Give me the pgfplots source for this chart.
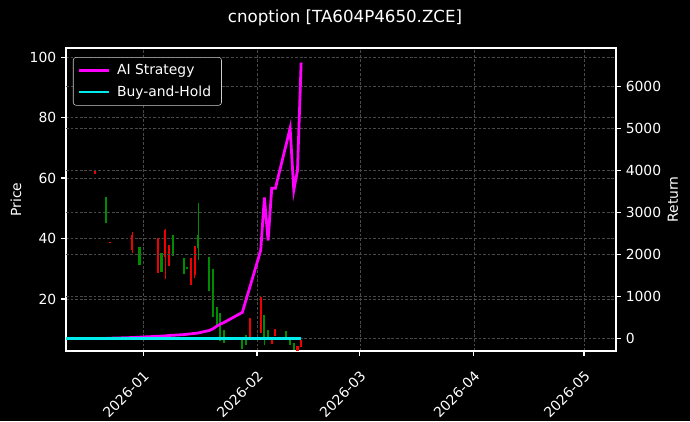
\documentclass[border=0pt]{standalone}
\usepackage{pgfplots}
\pgfplotsset{compat=1.18}
\usepackage{fontspec}
\setmainfont{DejaVu Sans}
\definecolor{cred}{RGB}{240,0,0}
\definecolor{cgreen}{RGB}{0,140,0}
\definecolor{cmag}{RGB}{255,0,255}
\definecolor{ccyan}{RGB}{0,235,235}
\definecolor{gridc}{RGB}{72,72,72}
\pgfplotsset{
  common/.style={
    at={(47.52pt,50.4pt)}, anchor=south west, scale only axis,
    width=396pt, height=218.16pt, xmin=-21, xmax=128.7,
    tick label style={text=white, font=\fontsize{10}{12}\selectfont},
    label style={text=white, font=\fontsize{10}{12}\selectfont},
    /pgf/number format/assume math mode=true,
    /pgf/number format/1000 sep={},
    scaled ticks=false, tick align=outside, major tick length=3.5pt,
    tick style={white, line width=0.8pt},
    axis line style={white, line width=0.8pt},
    grid style={gridc, dash pattern=on 2pt off 1.3pt, line width=0.45pt},
  }
}
\begin{document}
\begin{tikzpicture}
\fill[black] (0pt,0pt) rectangle (496.8pt,303.12pt);
\useasboundingbox (0pt,0pt) rectangle (496.8pt,303.12pt);
\node[text=white, font=\fontsize{12}{14}\selectfont] at (248.4pt,290.2pt) {cnoption [TA604P4650.ZCE]};
\begin{axis}[common,
  ymin=2.8, ymax=103,
  xtick={0,31,59,90,120},
  xticklabels={2026-01,2026-02,2026-03,2026-04,2026-05},
  xticklabel style={rotate=45, anchor=north east, xshift=-4pt, yshift=-3.5pt},
  ytick={20,40,60,80,100},
  xtick pos=bottom, ytick pos=left,
  grid=major,
  ylabel={Price},
  ylabel style={at={(axis description cs:-0.0909,0.5)}, anchor=center},
]
% red candle wicks
\addplot[draw=cred, line width=0.7pt, unbounded coords=jump] table {
x y
-3 35.2
-3 42.1
-3 nan
6 26.6
6 43.1
6 nan
14 26.9
14 37.5
};
% red candle bodies
\addplot[draw=cred, line width=1.5pt, unbounded coords=jump] table {
x y
-13 61.4
-13 62.4
-13 nan
-9 38.7
-9 39.0
-9 nan
-3 36.2
-3 41.1
-3 nan
4 28.6
4 40.1
4 nan
6 33.9
6 42.8
6 nan
7 30.9
7 37.8
7 nan
13 24.6
13 33.5
13 nan
14 28.0
14 37.5
14 nan
29 7.5
29 13.7
29 nan
32 8.8
32 20.7
32 nan
35 5.1
35 7.5
35 nan
36 7.8
36 10.1
36 nan
42 2.8
42 4.6
42 nan
43 4.0
43 6.5
};
% green candle wicks
\addplot[draw=cgreen, line width=0.7pt, unbounded coords=jump] table {
x y
15 32.9
15 51.7
15 nan
33 4.8
33 14.7
};
% green candle bodies
\addplot[draw=cgreen, line width=1.5pt, unbounded coords=jump] table {
x y
-10 45.0
-10 53.7
-10 nan
-1 31.2
-1 37.2
-1 nan
5 28.9
5 35.2
5 nan
8 34.2
8 41.1
8 nan
11 28.3
11 33.5
11 nan
12 30.0
12 30.5
12 nan
15 36.8
15 41.1
15 nan
18 22.5
18 33.9
18 nan
19 14.0
19 30.0
19 nan
20 11.0
20 17.4
20 nan
21 6.0
21 15.4
21 nan
22 5.5
22 9.8
22 nan
27 3.5
27 6.5
27 nan
28 4.8
28 8.1
28 nan
33 7.5
33 14.7
33 nan
34 6.5
34 9.8
34 nan
39 6.5
39 9.4
39 nan
40 4.8
40 7.1
40 nan
41 3.2
41 5.5
};
\end{axis}
\begin{axis}[common,
  ymin=-300, ymax=6920,
  axis x line=none, axis y line*=right,
  ytick={0,1000,2000,3000,4000,5000,6000},
  ymajorgrids,
  ylabel={Return},
  ylabel style={at={(axis description cs:1.1036,0.5)}, anchor=center},
  legend style={at={(axis description cs:0.0127,0.97)}, anchor=north west,
    fill=black, draw=white!80!black, rounded corners=2pt, text=white,
    font=\fontsize{10}{12}\selectfont, row sep=2.5pt, inner xsep=3pt, inner ysep=3pt,
    nodes={inner xsep=4.5pt}},
  legend cell align=left,
  legend image code/.code={\draw[#1] (0pt,0pt) -- (22pt,0pt);},
]
\addplot[cmag, line width=2pt] coordinates {
(-21,0) (-13,0) (-10,0) (-9,5) (-3,20) (-1,30) (4,50) (5,55) (6,60) (7,70) (8,75)
(11,90) (12,100) (13,110) (14,120) (15,130) (18,190) (19,230) (20,290) (21,340) (22,380)
(27,620) (28,920) (29,1210) (32,2100) (33,3360) (34,2330) (35,3580) (36,3580)
(39,4650) (40,5010) (41,3530) (42,4000) (43,6570)
};
\addlegendentry{AI Strategy}
\addplot[ccyan, line width=2pt] coordinates {
(-21,0) (-13,0) (-10,0) (-3,0) (4,0) (11,0) (18,0) (22,0) (27,0) (32,0) (36,0) (39,0) (43,0)
};
\addlegendentry{Buy-and-Hold}
\end{axis}
\end{tikzpicture}
\end{document}
